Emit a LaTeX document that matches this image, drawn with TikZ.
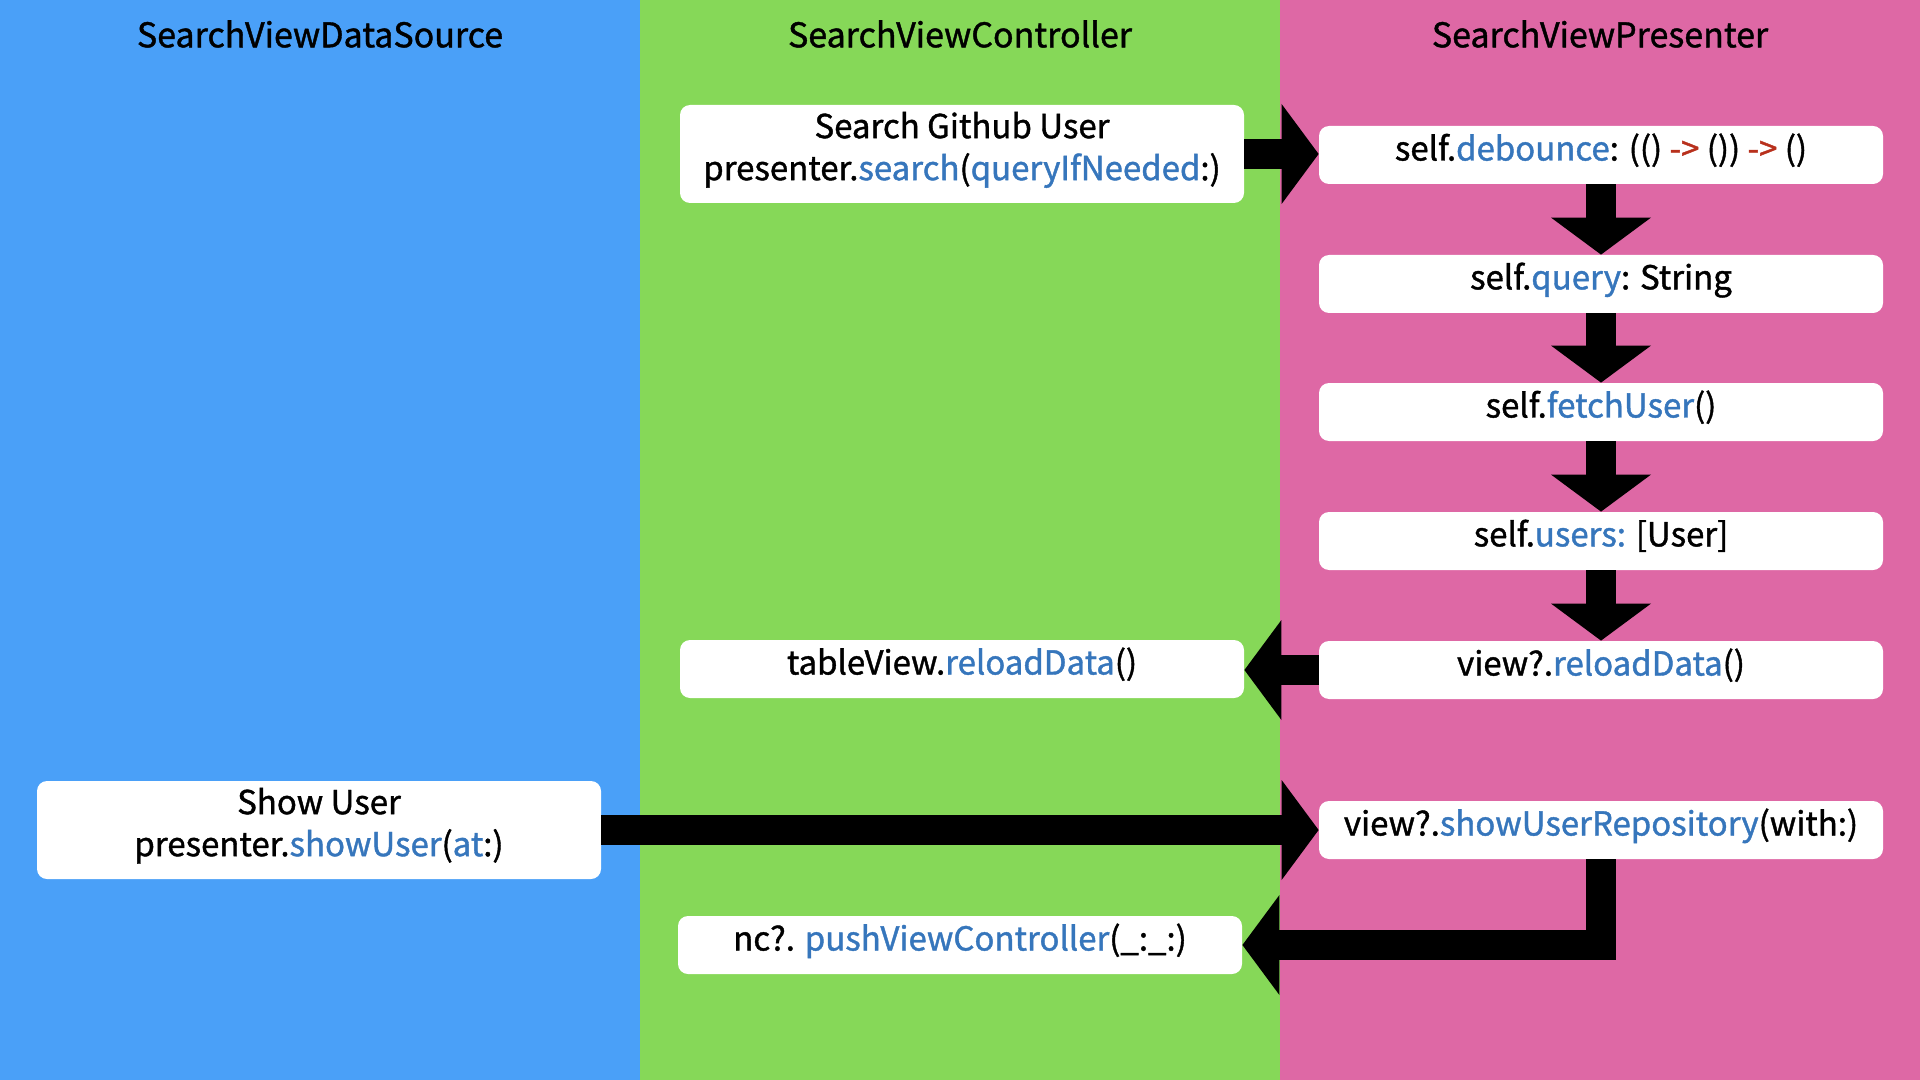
\documentclass[tikz,border=0pt]{standalone}
\usepackage{fontspec}
\setmainfont{Noto Sans CJK JP}[FakeBold=1.2]
\usetikzlibrary{arrows.meta}
\definecolor{colblue}{HTML}{4AA0F8}
\definecolor{colgreen}{HTML}{86D858}
\definecolor{colpink}{HTML}{DE68A5}
\definecolor{kwblue}{HTML}{3676BC}
\definecolor{kwred}{HTML}{B8301C}
\newcommand{\kw}[1]{\textcolor{kwblue}{#1}}
\newcommand{\rarr}{\textcolor{kwred}{->}}
\begin{document}
\begin{tikzpicture}[x=0.5pt,y=-0.5pt,
  box/.style={fill=white,rounded corners=5pt,inner sep=0pt,align=center,
    minimum width=282pt,minimum height=29pt,text depth=8pt,
    font=\fontsize{16.5}{21}\selectfont},
  bigbox/.style={box,minimum height=49pt},
  title/.style={font=\fontsize{17}{20}\selectfont},
  arr/.style={line width=15pt,-{Triangle[length=18.5pt,width=50pt,line width=0pt]}}]
\useasboundingbox (0,0) rectangle (1920,1080);
\fill[colblue] (0,0) rectangle (640,1080);
\fill[colgreen] (640,0) rectangle (1280,1080);
\fill[colpink] (1280,0) rectangle (1920,1080);
\node[title] (t1) at (320,34) {SearchViewDataSource};
\node[title] (t2) at (960,34) {SearchViewController};
\node[title] (t3) at (1600,34) {SearchViewPresenter};

\node[bigbox] (sgu) at (962,154) {Search Github User\\presenter.\kw{search}(\kw{queryIfNeeded}:)};
\node[box] (deb) at (1601,155) {self.\kw{debounce}: (() \rarr{} ()) \rarr{} ()};
\node[box] (qry) at (1601,284) {self.\kw{query}: String};
\node[box] (fet) at (1601,412) {self.\kw{fetchUser}()};
\node[box] (usr) at (1601,541) {self.\kw{users:} [User]};
\node[box] (vr) at (1601,670) {view?.\kw{reloadData}()};
\node[box] (tv) at (962,669) {tableView.\kw{reloadData}()};
\node[bigbox] (su) at (319,830) {Show User\\presenter.\kw{showUser}(\kw{at}:)};
\node[box] (sur) at (1601,830) {view?.\kw{showUserRepository}(with:)};
\node[box] (push) at (960,945) {nc?. \kw{pushViewController}(\_:\_:)};

\draw[arr] (sgu.east) -- (deb.west |- sgu.east);
\draw[arr] (deb) -- (qry);
\draw[arr] (qry) -- (fet);
\draw[arr] (fet) -- (usr);
\draw[arr] (usr) -- (vr);
\draw[arr] (vr.west) -- (tv.east |- vr.west);
\draw[arr] (su.east) -- (sur.west |- su.east);
\draw[arr] (sur.south) |- (push.east);
\end{tikzpicture}
\end{document}
